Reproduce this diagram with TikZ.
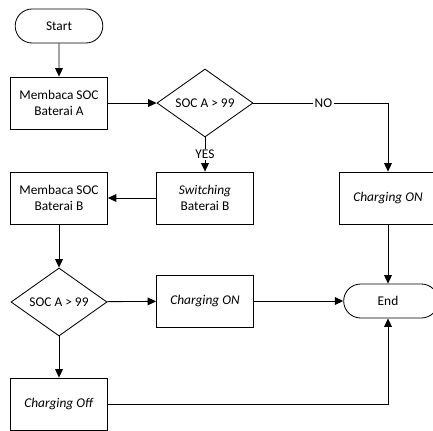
\documentclass[tikz,border=0pt]{standalone}
\usepackage{fontspec}
\setmainfont{Carlito}
\usetikzlibrary{arrows.meta,shapes.geometric,shapes.misc}

\tikzset{
	proc/.style={draw, minimum width=2.425cm, minimum height=1.3cm, align=center, inner sep=1pt},
	term/.style={draw, rounded rectangle, minimum width=2.425cm, minimum height=0.85cm},
	decision/.style={draw, diamond, aspect=1.4, minimum width=2.4cm, minimum height=1.7cm, inner sep=0pt},
	flow/.style={-{Triangle[width=5.5pt,length=6pt]}},
}

\begin{document}
\begin{tikzpicture}[x=0.025cm, y=-0.025cm, line width=0.6pt, font=\fontsize{9.5}{11.5}\selectfont]
		\clip (0,0) rectangle (433,430);
		\node[term] (start) at (59,26) {Start};
		\node[proc] (readA) at (59,103) {Membaca SOC\\Baterai A};
		\node[decision] (decA) at (205,103) {SOC A > 99};
		\node[proc] (switch) at (205,198) {\textit{Switching}\\Baterai B};
		\node[proc] (readB) at (59,198) {Membaca SOC\\Baterai B};
		% right column runs past the edge of the page
		\node[proc, minimum width=2.6cm] (chgOnA) at (391,198) {};
		\node (chgOnAText) at (388,198) {\textit{Charging ON}};
		\node[decision] (decB) at (59,302) {SOC A > 99};
		\node[proc] (chgOnB) at (205,301) {\textit{Charging ON}};
		\node[term, minimum width=2.6cm] (end) at (391,301) {};
		\node (endText) at (388,301) {End};
		\node[proc] (chgOff) at (59,404) {\textit{Charging Off}};

		\draw[flow] (start) -- (readA);
		\draw[flow] (readA) -- (decA);
		\draw[flow] (decA) -- node[fill=white, inner sep=1pt] (yes) {YES} (switch);
		\draw[flow] (decA.east) -| node[pos=0.26, fill=white, inner sep=1pt] (no) {NO} ([xshift=-0.075cm]chgOnA.north);
		\draw[flow] (switch) -- (readB);
		\draw[flow] (readB) -- (decB);
		\draw[flow] (decB) -- (chgOnB);
		\draw[flow] (decB) -- (chgOff);
		\draw[flow] (chgOnB) -- (end);
		\draw[flow] ([xshift=-0.075cm]chgOnA.south) -- ([xshift=-0.075cm]end.north);
		\draw[flow] (chgOff.east) -| ([xshift=-0.075cm]end.south);
	\end{tikzpicture}
\end{document}
